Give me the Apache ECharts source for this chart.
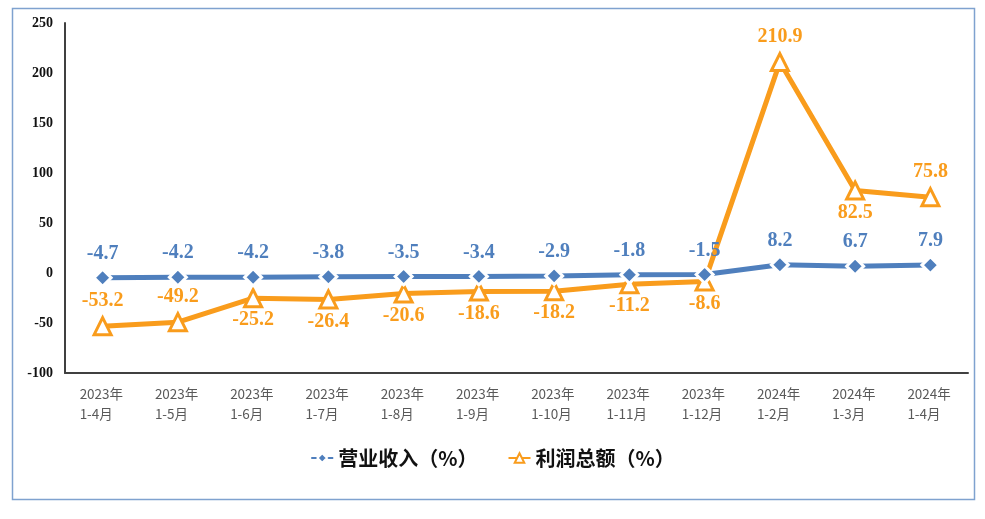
<!DOCTYPE html>
<html><head><meta charset="utf-8">
<script src="https://cdn.jsdelivr.net/npm/echarts@6/dist/echarts.min.js"></script>
<style>html,body{margin:0;padding:0;background:#fff}#c{width:985px;height:519px}</style>
</head><body><div id="c"></div>
<script>
const categories = ['2023年\n1-4月','2023年\n1-5月','2023年\n1-6月','2023年\n1-7月','2023年\n1-8月','2023年\n1-9月','2023年\n1-10月','2023年\n1-11月','2023年\n1-12月','2024年\n1-2月','2024年\n1-3月','2024年\n1-4月'];
const revenue = [-4.7,-4.2,-4.2,-3.8,-3.5,-3.4,-2.9,-1.8,-1.5,8.2,6.7,7.9];
const profit = [-53.2,-49.2,-25.2,-26.4,-20.6,-18.6,-18.2,-11.2,-8.6,210.9,82.5,75.8];
const profitLabelPos = ['top','top','bottom','bottom','bottom','bottom','bottom','bottom','bottom','top','bottom','top'];
const seriesNames = ['营业收入（%）','利润总额（%）'];

const blue = '#4f7fbd', orange = '#f99c1c';
const labelFont = {fontFamily:'Liberation Serif', fontWeight:'bold', fontSize:20};
const chart = echarts.init(document.getElementById('c'));
chart.setOption({
  animation:false,
  graphic:[{type:'rect',shape:{x:12.5,y:8.5,width:962,height:491},style:{fill:'none',stroke:'#7fa2cf',lineWidth:1.5},z:-1}],
  grid:{left:65,right:17,top:23,bottom:146},
  legend:{
    data:seriesNames, bottom:46, left:'center', itemGap:30, itemWidth:22, itemHeight:12,
    textStyle:{fontFamily:'Noto Sans CJK SC', fontWeight:'bold', fontSize:20, color:'#111'}
  },
  xAxis:{
    type:'category', data:categories, boundaryGap:true,
    axisLine:{onZero:false, lineStyle:{color:'#404040',width:2}},
    axisTick:{show:false},
    axisLabel:{fontFamily:'Noto Sans CJK SC', fontSize:13.5, color:'#595959', lineHeight:20, margin:11, interval:0, align:'left', padding:[0,0,0,-23]}
  },
  yAxis:{
    type:'value', min:-100, max:250, interval:50,
    axisLine:{show:true,lineStyle:{color:'#404040',width:2}},
    axisTick:{show:false}, splitLine:{show:false},
    axisLabel:{fontFamily:'Liberation Serif', fontWeight:'bold', fontSize:14, color:'#111', margin:12}
  },
  series:[
    {name:seriesNames[0], type:'line', data:revenue, symbol:'diamond', symbolSize:17,
     lineStyle:{color:blue,width:5}, itemStyle:{color:blue,borderColor:'#fff',borderWidth:3},
     label:{show:true, position:'top', distance:4, color:blue, ...labelFont}, z:3},
    {name:seriesNames[1], type:'line', data:profit.map((v,i)=>({value:v,label:{position:profitLabelPos[i], distance: profitLabelPos[i]==='top'?5:2}})), symbol:'triangle', symbolSize:17,
     lineStyle:{color:orange,width:5}, itemStyle:{color:'#fff',borderColor:orange,borderWidth:3},
     label:{show:true, color:orange, ...labelFont}, z:2}
  ]
});
</script></body></html>
